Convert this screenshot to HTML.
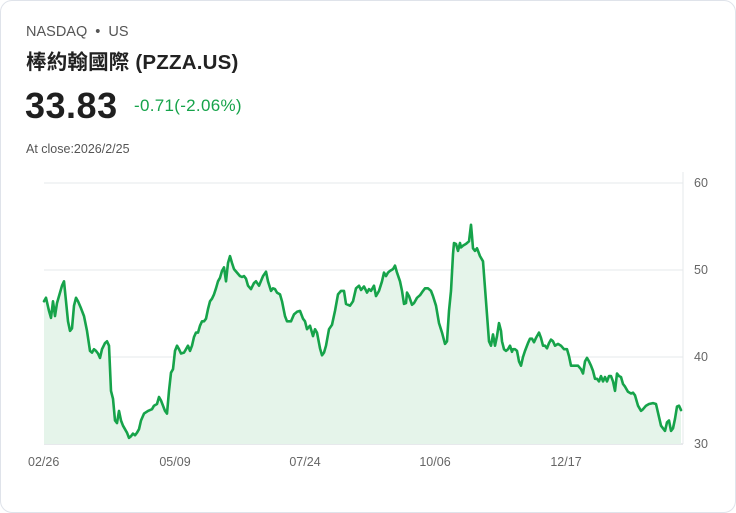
<!DOCTYPE html>
<html><head><meta charset="utf-8">
<style>
body{margin:0;background:#fff;font-family:"Liberation Sans","Noto Sans CJK TC",sans-serif;}
.card{position:absolute;left:0;top:0;width:734px;height:511px;border:1px solid #dfe3ea;border-radius:12px;background:#fff;}
.t{position:absolute;white-space:nowrap;}
</style></head><body>
<div class="card">
<div class="t" style="left:25px;top:23px;font-size:14.5px;color:#555;">NASDAQ &nbsp;•&nbsp; US</div>
<div class="t" style="left:25px;top:44px;font-size:20.5px;font-weight:bold;color:#222;letter-spacing:0.2px;">棒約翰國際 (PZZA.US)</div>
<div class="t" style="left:24px;top:84px;font-size:36px;font-weight:bold;color:#1f1f1f;letter-spacing:0.5px;">33.83</div>
<div class="t" style="left:133px;top:95px;font-size:17px;color:#16a34a;letter-spacing:0.3px;">-0.71(-2.06%)</div>
<div class="t" style="left:25px;top:141px;font-size:12.5px;color:#555;">At close:2026/2/25</div>
<svg id="chart" width="736" height="513" style="position:absolute;left:-1px;top:-1px;"></svg>
</div>
<script>
const sessions=[0,2,5,7,9,11,13,15,18,20,22,24,26,28,30,32,34,37,40,43,46,48,50,52,54,56,58,61,63,65,67,69,71,73,75,77,79,81,83,85,87,89,91,93,95,97,100,104,108,110,113,115,117,119,121,123,125,127,129,131,133,135,137,140,142,144,146,148,150,152,154,156,158,160,162,164,166,168,170,172,174,176,178,180,182,184,186,188,190,193,196,198,200,202,204,207,210,212,215,219,222,224,227,229,231,233,236,238,241,243,247,250,253,256,259,261,263,266,269,271,273,276,278,280,282,285,288,291,294,297,300,302,306,309,312,315,317,320,323,325,327,330,332,334,335,338,340,342,344,346,349,351,353,356,358,360,362,363,365,368,370,373,376,379,381,384,387,389,392,395,398,401,403,405,407,409,410,412,414,416,417,419,422,425,427,428,429,431,433,434,436,439,442,445,447,449,451,453,455,457,458,460,462,464,466,468,469,471,473,475,477,479,481,484,486,488,490,492,495,497,499,501,503,505,507,509,511,514,517,520,523,525,527,531,534,537,539,541,543,545,547,549,551,553,555,557,559,561,563,565,567,569,571,573,575,577,579,581,584,587,589,591,594,597,599,602,605,609,612,614,617,619,621,623,625,627,629,631,633,635,637];
const prices=[46.4,46.8,45.3,44.5,46.4,44.7,46.2,47.0,48.2,48.7,46.4,44.1,43.0,43.3,45.9,46.8,46.4,45.6,44.7,43.0,40.7,40.5,40.9,40.7,40.4,39.9,40.9,41.6,41.8,41.3,36.1,35.2,32.7,32.4,33.8,32.7,32.1,31.7,31.3,30.7,30.9,31.2,31.0,31.3,31.7,32.7,33.5,33.8,34.0,34.4,34.6,35.4,35.0,34.4,33.8,33.5,36.1,38.2,38.6,40.7,41.3,40.9,40.4,40.5,40.9,41.3,40.7,41.3,42.3,42.8,42.8,43.6,44.1,44.1,44.4,45.5,46.4,46.7,47.2,47.9,48.7,49.1,49.9,50.3,48.7,50.8,51.6,50.8,50.1,49.7,49.3,49.2,49.3,49.0,48.2,47.8,48.5,48.7,48.2,49.3,49.8,48.7,47.6,47.9,47.8,47.4,47.2,46.4,44.7,44.1,44.1,44.9,45.2,45.3,44.4,44.1,43.2,43.6,42.4,43.2,42.8,41.0,40.2,40.5,41.3,43.2,43.7,45.3,47.2,47.6,47.6,46.1,45.9,46.4,47.9,48.2,47.7,48.1,47.4,47.8,47.6,48.2,47.0,47.4,47.6,48.7,49.7,49.3,49.7,49.9,50.1,50.5,49.7,48.7,47.6,46.1,46.2,47.4,47.0,46.0,46.2,46.8,47.1,47.6,47.9,47.9,47.6,47.0,45.9,43.9,42.8,41.5,41.8,45.3,47.6,51.8,53.1,53.0,52.2,53.1,52.6,52.8,53.0,53.3,55.2,53.9,52.5,52.2,52.5,52.2,51.6,51.0,46.4,41.8,41.3,42.6,41.3,42.4,43.9,43.0,41.8,40.9,40.7,40.9,41.3,40.6,40.9,40.9,40.7,39.5,39.0,40.0,40.7,41.6,42.1,42.1,41.7,42.2,42.8,42.2,41.3,41.3,41.0,41.6,42.0,41.8,41.3,41.5,41.3,40.9,40.9,40.1,39.0,39.0,39.0,38.6,38.1,39.5,39.9,39.5,39.0,38.4,37.5,37.5,37.2,37.8,37.2,37.7,37.2,37.8,37.8,37.2,36.1,38.1,37.8,37.7,36.9,36.6,36.0,35.8,35.9,35.6,34.4,33.8,34.0,34.4,34.6,34.7,34.6,33.6,32.1,31.8,31.5,32.5,32.7,31.5,31.8,32.9,34.3,34.4,33.9];
const yTicks=[60,50,40,30];
const xTickLabels=["02/26","05/09","07/24","10/06","12/17"];
const xTickSessions=[0,131,261,391,522];

const svg=document.getElementById('chart');
const NS='http://www.w3.org/2000/svg';
const L=44,R=683,T=183,B=444;
const xS=s=>L+s/639*(R-L);
const yS=v=>B-(v-30)/30*(B-T);
function mk(tag,attrs){const e=document.createElementNS(NS,tag);for(const k in attrs)e.setAttribute(k,attrs[k]);svg.appendChild(e);return e;}
yTicks.forEach(v=>{
  const g=mk('line',{x1:L,x2:R,y1:yS(v),y2:yS(v),stroke:v===30?'#cfd3d8':'#e6e8eb','stroke-width':1});
  
  
  const t=mk('text',{x:694,y:yS(v)+4,'font-size':12.5,fill:'#666','font-family':'Liberation Sans, sans-serif'});
  t.textContent=v;
  
  
});
const ax=mk('line',{x1:R,x2:R,y1:172,y2:B,stroke:'#e6e8eb','stroke-width':1});


xTickLabels.forEach((lab,i)=>{
  const t=mk('text',{x:xS(xTickSessions[i]),y:466,'font-size':12.5,fill:'#666','text-anchor':i===0?'start':'middle','font-family':'Liberation Sans, sans-serif'});
  if(i===0)t.setAttribute('x',L-16);
  t.textContent=lab;
  
  
});
const n=Math.min(sessions.length,prices.length);
let d='';
for(let i=0;i<n;i++)d+=(i?'L':'M')+xS(sessions[i]).toFixed(1)+','+yS(prices[i]).toFixed(1);
const area=mk('path',{d:d+'L'+xS(sessions[n-1]).toFixed(1)+','+B+'L'+xS(sessions[0])+','+B+'Z',fill:'#e5f4ea'});


const line=mk('path',{d:d,fill:'none',stroke:'#16a34a','stroke-width':2.6,'stroke-linejoin':'round','stroke-linecap':'round'});


</script>
</body></html>
